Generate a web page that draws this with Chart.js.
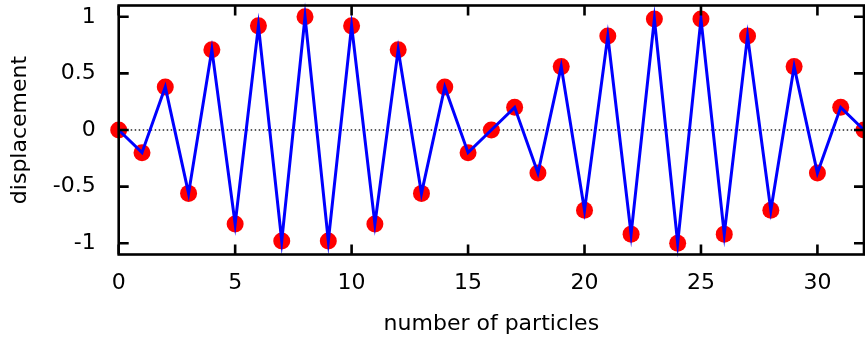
<!DOCTYPE html>
<html>
<head>
<meta charset="utf-8">
<script src="https://cdn.jsdelivr.net/npm/chart.js@4"></script>
<style>
  html, body { margin: 0; padding: 0; background: #fff; }
  #wrap { width: 865px; height: 340px; }
</style>
</head>
<body>
<div id="wrap"><canvas id="myChart" width="865" height="340"></canvas></div>
<script>
// numero de particula
const particulas = [0, 1, 2, 3, 4, 5, 6, 7, 8, 9, 10, 11, 12, 13, 14, 15, 16,
  17, 18, 19, 20, 21, 22, 23, 24, 25, 26, 27, 28, 29, 30, 31, 32];
// desplazamiento
const desplazamiento = [0, -0.2, 0.38, -0.56, 0.71, -0.83, 0.92, -0.98, 1, -0.98,
  0.92, -0.83, 0.71, -0.56, 0.38, -0.2, 0, 0.2, -0.38, 0.56, -0.71, 0.83, -0.92,
  0.98, -1, 0.98, -0.92, 0.83, -0.71, 0.56, -0.38, 0.2, 0];

const ticksX = [0, 5, 10, 15, 20, 25, 30];
const ticksY = [-1, -0.5, 0, 0.5, 1];
const etiquetasY = ["-1", "-0.5", "0", "0.5", "1"];

const puntos = particulas.map((p, i) => ({ x: p, y: desplazamiento[i] }));

const fuente = "'DejaVu Sans', sans-serif";

// marco, ticks hacia dentro y linea de cero punteada (estilo gnuplot)
const marcoGnuplot = {
  id: "marcoGnuplot",
  beforeDatasetsDraw(chart) {
    const { ctx, chartArea: a, scales } = chart;
    const y0 = scales.y.getPixelForValue(0);
    ctx.save();
    ctx.strokeStyle = "#222";
    ctx.lineWidth = 1.5;
    ctx.setLineDash([1.5, 2.5]);
    ctx.beginPath();
    ctx.moveTo(a.left, y0);
    ctx.lineTo(a.right, y0);
    ctx.stroke();
    ctx.restore();
  },
  afterDatasetsDraw(chart) {
    const { ctx, chartArea: a, scales } = chart;
    const largo = 10;
    ctx.save();
    ctx.strokeStyle = "#000";
    ctx.lineWidth = 2.6;
    ctx.strokeRect(a.left, a.top, a.right - a.left, a.bottom - a.top);
    ctx.beginPath();
    ticksX.forEach((v) => {
      const px = scales.x.getPixelForValue(v);
      ctx.moveTo(px, a.bottom);
      ctx.lineTo(px, a.bottom - largo);
      ctx.moveTo(px, a.top);
      ctx.lineTo(px, a.top + largo);
    });
    ticksY.forEach((v) => {
      const py = scales.y.getPixelForValue(v);
      ctx.moveTo(a.left, py);
      ctx.lineTo(a.left + largo, py);
      ctx.moveTo(a.right, py);
      ctx.lineTo(a.right - largo, py);
    });
    ctx.stroke();
    ctx.restore();
  },
};

const canvas = document.getElementById("myChart").getContext("2d");

new Chart(canvas, {
  type: "scatter",
  data: {
    datasets: [
      {
        label: "linea",
        data: puntos,
        showLine: true,
        borderColor: "#0000ff",
        borderWidth: 3,
        pointRadius: 0,
        pointHoverRadius: 0,
        clip: false,
        order: 0,
      },
      {
        label: "particulas",
        data: puntos,
        showLine: false,
        backgroundColor: "#ff0000",
        borderColor: "#ff0000",
        borderWidth: 0,
        pointRadius: 8.5,
        clip: false,
        order: 1,
      },
    ],
  },
  options: {
    responsive: false,
    animation: false,
    layout: { autoPadding: false, padding: { top: 5.5, right: 1, left: 0, bottom: 0 } },
    plugins: { legend: { display: false }, tooltip: { enabled: false } },
    scales: {
      x: {
        type: "linear",
        min: 0,
        max: 32,
        grid: { display: false },
        border: { display: false },
        afterBuildTicks: (s) => { s.ticks = ticksX.map((v) => ({ value: v })); },
        afterFit: (s) => {
          s.height = 85.5;
          s.paddingLeft = 0;
          s.paddingRight = 0;
        },
        ticks: {
          color: "#000",
          padding: 8,
          maxRotation: 0,
          font: { family: fuente, size: 22 },
        },
        title: {
          display: true,
          text: "number of particles",
          color: "#000",
          padding: { bottom: 3 },
          font: { family: fuente, size: 22 },
        },
      },
      y: {
        type: "linear",
        min: -1.1,
        max: 1.1,
        grid: { display: false },
        border: { display: false },
        afterBuildTicks: (s) => { s.ticks = ticksY.map((v) => ({ value: v })); },
        afterFit: (s) => {
          s.width = 118.7;
          s.paddingTop = 0;
          s.paddingBottom = 0;
        },
        ticks: {
          color: "#000",
          padding: 15,
          font: { family: fuente, size: 22 },
          callback: (v) => etiquetasY[ticksY.indexOf(v)],
        },
        title: {
          display: true,
          text: "displacement",
          color: "#000",
          padding: { top: 7 },
          font: { family: fuente, size: 22 },
        },
      },
    },
  },
  plugins: [marcoGnuplot],
});
</script>
</body>
</html>
